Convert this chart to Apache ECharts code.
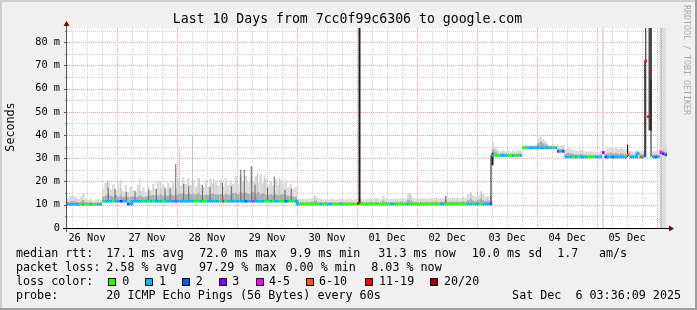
<!DOCTYPE html>
<html><head><meta charset="utf-8">
<script src="https://cdn.jsdelivr.net/npm/echarts@6/dist/echarts.min.js"></script>
<style>html,body{margin:0;padding:0;background:#f0f0f0;}#c{width:697px;height:310px;}</style>
</head><body><div id="c"></div>
<script>
// ---------------- DATA ----------------
// time is expressed in hours since 26 Nov 00:00; one value per hour starting at firstHour
const firstHour = 4;
const lastHour = 244;
const yMax = 86.2;
const dayLabels = ['26 Nov','27 Nov','28 Nov','29 Nov','30 Nov','01 Dec','02 Dec','03 Dec','04 Dec','05 Dec'];
const dayLabelHours = [12,36,60,84,108,132,156,180,204,228];
const midnightHours = [24,48,72,96,120,144,168,192,216,240];
const sixHourMarks = [6,12,18,30,36,42,54,60,66,78,84,90,102,108,114,126,132,138,150,156,162,174,180,186,198,204,210,222,228,234];
const yTickValues = [0,10,20,30,40,50,60,70,80];
const yTickLabels = ['0','10 m','20 m','30 m','40 m','50 m','60 m','70 m','80 m'];
const yMinorValues = [5,15,25,35,45,55,65,75,85];

// median rtt (ms), hourly
const medianMs = [
 10.2,10.2,10.2,10.2,10.2,10.2,10.2,10.2,10.2,10.2,10.2,10.2,
 10.2,10.2,11.5,11.5,11.5,11.5,11.5,11.5,11.5,11.5,11.5,11.5,
 10.3,10.3,11.5,11.5,11.5,11.5,11.5,11.5,11.5,11.5,11.5,11.5,
 11.5,11.5,11.5,11.5,11.5,11.5,11.5,11.5,11.5,11.5,11.5,11.5,
 11.5,11.5,11.5,11.5,11.5,11.5,11.5,11.5,11.5,11.5,11.5,11.5,
 11.5,11.5,11.5,11.5,11.5,11.5,11.5,11.5,11.5,11.5,11.5,11.5,
 11.5,11.5,11.5,11.5,11.5,11.5,11.5,11.5,11.5,11.5,11.5,11.5,
 11.5,11.5,11.5,11.5,11.5,11.5,11.5,11.5,10.3,10.3,10.3,10.3,
 10.3,10.3,10.3,10.3,10.3,10.3,10.3,10.3,10.3,10.3,10.3,10.3,
 10.3,10.3,10.3,10.3,10.3,10.3,10.3,10.3,10.5,10.3,10.3,10.3,
 10.3,10.3,10.3,10.3,10.3,10.3,10.3,10.3,10.3,10.3,10.3,10.3,
 10.3,10.3,10.3,10.3,10.3,10.3,10.3,10.3,10.3,10.3,10.3,10.3,
 10.3,10.3,10.3,10.3,10.3,10.3,10.3,10.3,10.3,10.3,10.3,10.3,
 10.3,10.3,10.3,10.3,10.3,10.3,10.3,10.3,10.3,10.3,10.3,10.3,
 10.3,10.3,31.2,31.2,31.2,31.2,31.2,31.2,31.2,31.2,31.2,31.2,
 31.2,31.2,34.5,34.5,34.5,34.5,34.5,34.5,34.5,34.5,34.5,34.5,
 34.5,34.5,34.5,34.5,33.0,33.0,33.0,30.6,30.6,30.6,30.6,30.6,
 30.6,30.6,30.6,30.6,30.6,30.6,30.6,30.6,30.6,30.6,32.5,30.6,
 30.6,30.6,30.6,30.6,30.6,30.6,30.6,30.6,31.5,30.6,30.6,30.6,
 32.0,30.6,30.6,72.0,48.0,68.0,30.6,30.6,30.6,32.5,32.0,31.5
];
// loss class per hour: 0=0,1=1,2=2,3=3,4=4-5,5=6-10,6=11-19,7=20/20
const lossClass = [
 '111110100100','110111011311','211111010101','110111141111','111001001111',
 '104011111112','114111100101','100210011000','000001001100','010000006000',
 '000000000110','000010000000','000001100000','000011011011','121001110010',
 '010011111111','110121211101','011100011132','112111115111','151666121432'
];
// top of the light smoke (ms), hourly
const smokeHi = [
 13.0,13.8,14.0,13.4,12.6,13.5,15.2,12.8,12.0,12.6,11.8,12.2,
 12.5,12.0,17.0,19.5,20.4,16.5,18.8,16.2,19.6,17.0,15.8,18.6,
 15.5,17.8,16.2,15.8,18.6,16.0,17.4,15.6,18.2,16.4,19.0,17.2,
 19.8,17.0,18.8,16.6,19.4,17.6,20.2,17.2,21.0,18.4,21.8,19.0,
 21.5,18.6,20.8,17.8,21.4,18.4,17.6,20.6,18.0,21.2,19.2,20.4,
 18.4,20.8,17.8,21.4,18.6,20.6,19.0,22.4,19.2,22.8,20.2,22.4,
 19.6,21.8,20.2,22.6,19.8,23.2,19.4,21.6,18.6,20.4,18.2,21.2,
 18.4,20.6,19.2,20.2,17.6,19.0,16.8,17.6,12.8,12.5,12.6,12.4,
 12.6,12.8,13.2,13.9,13.0,12.5,12.4,12.6,12.3,12.8,12.5,12.2,
 12.4,12.8,12.5,12.2,12.6,12.4,12.3,12.5,12.6,12.8,12.4,12.3,
 12.5,12.8,12.4,13.0,12.6,12.5,13.9,12.8,12.4,12.6,12.5,12.7,
 12.6,12.8,13.0,12.6,15.1,14.2,12.8,12.6,12.5,12.9,12.6,12.8,
 12.6,13.0,12.8,13.2,12.6,12.9,12.7,13.9,13.0,12.8,13.2,12.9,
 13.2,12.8,13.5,13.0,14.5,15.3,14.0,13.6,14.2,15.8,14.6,13.5,
 13.8,13.5,36.6,35.0,33.6,33.2,33.8,33.0,33.5,32.8,33.4,33.0,
 33.6,33.2,35.6,35.9,35.4,35.8,35.5,36.0,38.8,39.5,38.2,37.2,
 36.0,35.6,35.8,35.4,35.9,35.5,35.8,34.0,34.6,34.2,33.8,33.5,
 33.2,33.8,33.4,33.0,32.8,33.2,32.9,33.0,32.6,33.4,34.0,33.5,
 34.5,35.0,34.2,34.8,34.0,34.5,34.2,33.8,35.9,33.2,33.0,33.4,
 33.6,33.0,33.2,72.0,48.0,68.0,33.0,33.2,33.0,35.0,35.5,34.8
];
// top of the denser (middle) smoke (ms), hourly
const smokeMid = [
 11.2,11.5,11.6,11.4,11.0,11.3,12.0,11.2,11.0,11.1,10.9,11.0,
 11.0,10.9,13.5,14.0,14.5,13.8,13.6,14.2,13.5,14.0,13.4,13.8,
 13.2,13.5,13.6,13.2,13.6,13.9,13.3,13.5,13.8,14.0,14.2,13.9,
 14.0,14.4,13.9,14.1,13.8,14.3,14.0,14.2,14.6,14.8,15.0,14.5,
 14.8,14.5,14.8,14.4,15.0,14.3,14.0,14.5,14.2,14.7,14.8,14.4,
 14.3,14.6,14.2,14.8,14.3,14.5,15.0,15.2,14.6,15.4,15.0,15.2,
 14.8,14.6,15.4,14.9,15.5,14.6,15.0,14.4,14.2,14.6,14.1,14.6,
 14.1,14.5,14.6,14.2,13.9,13.8,13.6,13.4,11.2,11.0,11.1,11.0,
 11.1,11.2,11.4,11.8,11.3,11.0,11.0,11.1,10.9,11.2,11.0,10.9,
 11.0,11.2,11.0,10.9,11.1,11.0,10.9,11.0,11.1,11.2,11.0,10.9,
 11.0,11.2,11.0,11.3,11.1,11.0,11.8,11.2,11.0,11.1,11.0,11.2,
 11.1,11.2,11.3,11.1,12.2,11.8,11.2,11.1,11.0,11.3,11.1,11.2,
 11.1,11.3,11.2,11.4,11.1,11.3,11.2,11.9,11.3,11.2,11.4,11.3,
 11.4,11.2,11.6,11.3,12.0,12.4,11.8,11.6,11.9,12.6,12.0,11.6,
 11.8,11.6,34.0,33.0,32.2,32.0,32.3,31.9,32.1,31.8,32.0,31.9,
 32.2,32.0,35.2,35.3,35.1,35.3,35.2,35.4,36.6,37.2,36.5,36.0,
 35.4,35.2,35.3,35.1,34.2,34.0,34.2,32.0,32.4,32.1,31.9,31.7,
 31.6,31.9,31.7,31.5,31.4,31.6,31.5,31.5,31.3,31.7,33.2,31.9,
 32.2,32.5,32.0,32.4,31.9,32.2,32.0,31.8,33.0,31.6,31.5,31.7,
 32.6,31.6,31.7,72.0,48.0,68.0,31.6,31.7,31.6,33.6,33.4,32.8
];
// single outlier pings: [hour, top ms]
const paleSpikes = [[20.0,20.8],[25.3,20.8],[32.9,21.6],[41.3,20.1],[48.7,34.5],[54.0,39.2],[56.7,21.5],[62.5,21.2],[77.3,26.6],[80.0,23.7],[82.7,23.0],[88.7,21.5],[102.8,13.9],[141.0,15.1],[165.3,15.3],[169.6,15.8]];
const greySpikes = [[20.3,17.5],[23.0,17.0],[27.5,15.5],[31.0,16.0],[36.5,16.5],[39.5,16.8],[43.0,17.5],[45.0,17.0],[47.3,27.6],[50.5,19.0],[52.5,18.0],[58.0,18.5],[61.0,17.8],[66.0,19.5],[69.5,18.0],[73.3,25.1],[74.7,25.1],[77.7,26.6],[79.0,18.7],[84.0,17.5],[86.7,22.2],[91.0,16.5],[93.5,17.0],[155.3,13.9]];
// dense smoke columns: [hourFrom, hourTo, lowMs, highMs]
const blackSmoke = [[120.6,121.4,10.3,86.2],[173.4,173.8,10.3,31.2],[173.8,174.6,27.0,32.4],[228.0,228.4,30.6,35.9],[234.9,235.3,30.6,72.0],[235.3,235.7,30.6,86.2],[237.4,237.8,30.6,64.0]];
const darkGreySmoke = [[236.6,238.0,42.0,86.2]];
// periods drawn as full-height bands: [hourFrom, hourTo]
const gapBands = [[218.0,218.8],[241.0,243.8]];
const gapBandsDark = [[241.3,242.0]];

const lossLabels = ['0','1','2','3','4-5','6-10','11-19','20/20'];

// ---------------- STYLE / LAYOUT ----------------
const LOSS_COLORS = ['#26ff00','#00b8ff','#0059ff','#7e00ff','#ff00ff','#ff5500','#ff0000','#a10000'];
const MONO = '"DejaVu Sans Mono"';
const GX = 67, GY = 28, GW = 600, GH = 200;
const LINE_W = 2.6;

const hours = medianMs.map((_, i) => firstHour + i);
const loss = lossClass.join('').split('').map(Number);

function rectBetween(api, x0, lo, x1, hi, fill) {
  const a = api.coord([x0, hi]), b = api.coord([x1, lo]);
  return {type:'rect', shape:{x:a[0], y:a[1], width:b[0]-a[0], height:b[1]-a[1]}, style:{fill}};
}
function customSeries(data, render, z) {
  return {type:'custom', coordinateSystem:'cartesian2d', xAxisIndex:0, yAxisIndex:0, silent:true,
          animation:false, clip:true, z: z || 2, data, renderItem: render};
}

const series = [
  customSeries(gapBands, (p, api) => rectBetween(api, api.value(0), 0, api.value(1), yMax, '#dedede'), 1),
  customSeries(gapBandsDark, (p, api) => rectBetween(api, api.value(0), 0, api.value(1), yMax, '#c6c6c6'), 1),
  customSeries(hours.map((h, i) => [h, medianMs[i], smokeHi[i]]),
    (p, api) => api.value(2) > api.value(1) ? rectBetween(api, api.value(0), api.value(1), api.value(0) + 1, api.value(2), '#dadada') : null, 2),
  customSeries(paleSpikes.map(s => [s[0], medianMs[Math.floor(s[0]) - firstHour], s[1]]),
    (p, api) => rectBetween(api, api.value(0), api.value(1), api.value(0) + 0.4, api.value(2), '#c4c4c4'), 3),
  customSeries(hours.map((h, i) => [h, medianMs[i], smokeMid[i]]),
    (p, api) => api.value(2) > api.value(1) ? rectBetween(api, api.value(0), api.value(1), api.value(0) + 1, api.value(2), '#acacac') : null, 4),
  customSeries(greySpikes.map(s => [s[0], medianMs[Math.floor(s[0]) - firstHour], s[1]]),
    (p, api) => rectBetween(api, api.value(0), api.value(1), api.value(0) + 0.4, api.value(2), '#666666'), 5),
  customSeries(darkGreySmoke, (p, api) => rectBetween(api, api.value(0), api.value(2), api.value(1), api.value(3), '#4a4a4a'), 6),
  customSeries(blackSmoke, (p, api) => rectBetween(api, api.value(0), api.value(2), api.value(1), api.value(3), '#1c1c1c'), 7),
  customSeries(hours.map((h, i) => [h, medianMs[i], loss[i]]), (p, api) => {
    const i = p.dataIndex, h = api.value(0), v = api.value(1), c = api.value(2);
    const a = api.coord([h, v]), b = api.coord([h + 1, v]);
    const fill = LOSS_COLORS[c];
    const children = [{type:'rect', shape:{x:a[0], y:a[1] - LINE_W / 2, width:b[0] - a[0], height:LINE_W}, style:{fill}}];
    if (i > 0 && loss[i - 1] === c && medianMs[i - 1] !== v && Math.abs(medianMs[i - 1] - v) < 8) {
      const q = api.coord([h, medianMs[i - 1]]);
      children.push({type:'rect', shape:{x:a[0] - LINE_W / 2, y:Math.min(q[1], a[1]) - LINE_W / 2, width:LINE_W, height:Math.abs(q[1] - a[1]) + LINE_W}, style:{fill}});
    }
    return {type:'group', children};
  }, 8)
];

// ---------------- GRAPHIC TEXT ----------------
function txt(x, y, text, size, opts) {
  opts = opts || {};
  return {type:'text', x, y, rotation: opts.rotation || 0, silent:true, z:10,
    style:{text, fill: opts.fill || '#000', font: size + 'px ' + MONO,
      align: opts.align || 'left', textAlign: opts.align || 'left',
      verticalAlign:'middle', textVerticalAlign:'middle'}};
}
const FS = 11.7;
const L1 = 254.3, L2 = 268.3, L3 = 282.3, L4 = 296.2;
const graphic = [
  // frame shading
  {type:'rect', shape:{x:0, y:0, width:697, height:2}, style:{fill:'#cfcfcf'}, silent:true},
  {type:'rect', shape:{x:0, y:0, width:2, height:310}, style:{fill:'#cfcfcf'}, silent:true},
  {type:'rect', shape:{x:0, y:308, width:697, height:2}, style:{fill:'#9e9e9e'}, silent:true},
  {type:'rect', shape:{x:695, y:0, width:2, height:310}, style:{fill:'#9e9e9e'}, silent:true},
  // axis extensions and arrows
  {type:'line', shape:{x1:66.5, y1:22, x2:66.5, y2:232}, style:{stroke:'#555', lineWidth:1}, silent:true, z:9},
  {type:'line', shape:{x1:63, y1:228.5, x2:670, y2:228.5}, style:{stroke:'#000', lineWidth:1}, silent:true, z:9},
  {type:'polygon', shape:{points:[[66.5,21],[63.5,26],[69.5,26]]}, style:{fill:'#800000'}, silent:true, z:10},
  {type:'polygon', shape:{points:[[674,228.5],[669,225.5],[669,231.5]]}, style:{fill:'#800000'}, silent:true, z:10},
  // title, axis title, watermark
  txt(347.5, 19.5, 'Last 10 Days from 7cc0f99c6306 to google.com', 13.2, {align:'center'}),
  txt(11, 127, 'Seconds', FS, {align:'center', rotation: Math.PI / 2}),
  txt(686.5, 60, 'RRDTOOL / TOBI OETIKER', 8.3, {align:'center', rotation: -Math.PI / 2, fill:'#ababab'}),
  // legend line 1
  txt(16, L1, 'median rtt:', FS), txt(106.3, L1, '17.1 ms avg', FS), txt(199.3, L1, '72.0 ms max', FS),
  txt(290, L1, '9.9 ms min', FS), txt(378.3, L1, '31.3 ms now', FS), txt(471.7, L1, '10.0 ms sd', FS),
  txt(557.3, L1, '1.7', FS), txt(599, L1, 'am/s', FS),
  // legend line 2
  txt(16, L2, 'packet loss:', FS), txt(106.3, L2, '2.58 % avg', FS), txt(199, L2, '97.29 % max', FS),
  txt(285.5, L2, '0.00 % min', FS), txt(371.3, L2, '8.03 % now', FS),
  // legend line 3
  txt(16, L3, 'loss color:', FS),
  // legend line 4
  txt(16, L4, 'probe:', FS), txt(106.3, L4, '20 ICMP Echo Pings (56 Bytes) every 60s', FS),
  txt(681, L4, 'Sat Dec  6 03:36:09 2025', FS, {align:'right'})
];
const boxX = [108.5, 145.5, 182.5, 219.5, 256.5, 306.5, 365.5, 430.5];
const boxLabelX = [122.3, 159, 195.7, 232.3, 269, 319, 379, 444];
lossLabels.forEach((lab, k) => {
  graphic.push({type:'rect', shape:{x:boxX[k], y:278.5, width:7, height:7}, style:{fill:LOSS_COLORS[k], stroke:'#000', lineWidth:1}, silent:true, z:10});
  graphic.push(txt(boxLabelX[k], L3, lab, FS));
});

const axisFont = {fontFamily: MONO, fontSize: 10.3, color: '#000'};
const option = {
  backgroundColor: '#f0f0f0',
  animation: false,
  grid: {left: GX, top: GY, width: GW, height: GH, show: true, backgroundColor: '#fff', borderWidth: 0, containLabel: false},
  xAxis: [
    {type:'value', min:firstHour, max:lastHour, position:'bottom',
     axisLine:{show:false}, axisTick:{show:false, customValues: midnightHours},
     axisLabel:Object.assign({customValues: dayLabelHours, margin:5, formatter: v => dayLabels[dayLabelHours.indexOf(v)]}, axisFont),
     splitLine:{show:true, lineStyle:{color:'#f2a0a0', type:'dotted', width:1}}},
    {type:'value', min:firstHour, max:lastHour, position:'bottom',
     axisLine:{show:false}, axisTick:{show:false, customValues: sixHourMarks}, axisLabel:{show:false},
     splitLine:{show:true, lineStyle:{color:'#cfcfcf', type:'dotted', width:1}}}
  ],
  yAxis: [
    {type:'value', min:0, max:yMax, position:'left',
     axisLine:{show:false}, axisTick:{show:true, length:3, customValues: yTickValues, lineStyle:{color:'#555'}},
     axisLabel:Object.assign({customValues: yTickValues, margin:7, formatter: v => yTickLabels[yTickValues.indexOf(v)]}, axisFont),
     splitLine:{show:true, lineStyle:{color:'#f2a0a0', type:'dotted', width:1}}},
    {type:'value', min:0, max:yMax, position:'left',
     axisLine:{show:false}, axisTick:{show:true, length:2, customValues: yMinorValues, lineStyle:{color:'#777'}}, axisLabel:{show:false},
     splitLine:{show:true, lineStyle:{color:'#cfcfcf', type:'dotted', width:1}}}
  ],
  series,
  graphic
};
const chart = echarts.init(document.getElementById('c'), null, {renderer:'canvas', width:697, height:310});
chart.setOption(option);
</script></body></html>
